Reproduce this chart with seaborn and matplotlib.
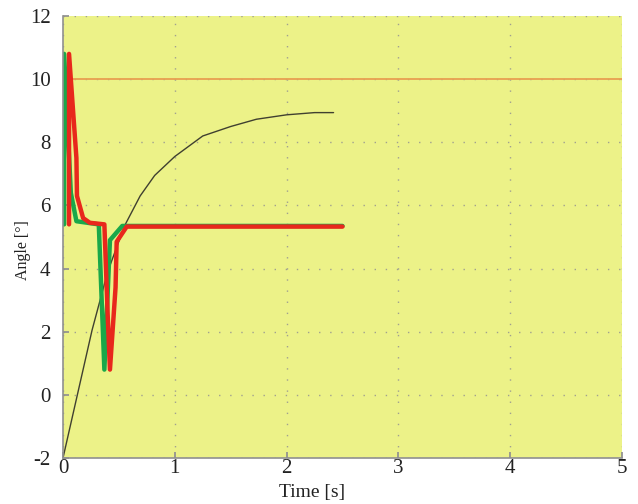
import matplotlib
matplotlib.use("Agg")
import matplotlib.pyplot as plt
import seaborn as sns
import pandas as pd

# Data
ref_t = [0.0, 5.0]
ref_v = [10.0, 10.0]

black_t = [0.0, 0.26, 0.40, 0.55, 0.69, 0.82, 1.0, 1.25, 1.5, 1.73, 2.0, 2.25, 2.42]
black_v = [-2.0, 2.05, 3.9, 5.35, 6.3, 6.95, 7.55, 8.2, 8.5, 8.73, 8.87, 8.94, 8.94]

green_t = [0.01, 0.01, 0.07, 0.12, 0.32, 0.37, 0.42, 0.53, 2.5]
green_v = [5.4, 10.8, 6.4, 5.5, 5.4, 0.8, 4.9, 5.35, 5.35]

red_t = [0.054, 0.054, 0.12, 0.125, 0.18, 0.24, 0.37, 0.40, 0.42, 0.47, 0.48, 0.57, 2.5]
red_v = [5.4, 10.8, 7.5, 6.3, 5.6, 5.45, 5.4, 2.5, 0.8, 3.4, 4.85, 5.33, 5.33]

x_ticks = [0, 1, 2, 3, 4, 5]
y_ticks = [-2, 0, 2, 4, 6, 8, 10, 12]

sns.set_theme(style="white")
plt.rcParams['font.family'] = ['Liberation Serif', 'DejaVu Serif']
plt.rcParams['axes.unicode_minus'] = False

fig = plt.figure(figsize=(6.38, 5.04), dpi=100)
ax = fig.add_axes([63/638, 1-458/504, (622-63)/638, (458-16)/504])
ax.set_facecolor("#ecf288")

df_ref = pd.DataFrame({"t": ref_t, "v": ref_v})
df_b = pd.DataFrame({"t": black_t, "v": black_v})
df_g = pd.DataFrame({"t": green_t, "v": green_v})
df_r = pd.DataFrame({"t": red_t, "v": red_v})

sns.lineplot(data=df_ref, x="t", y="v", ax=ax, color="#e8a050", lw=1.3, sort=False, estimator=None)
sns.lineplot(data=df_b, x="t", y="v", ax=ax, color="#404030", lw=1.0, sort=False, estimator=None)
sns.lineplot(data=df_g, x="t", y="v", ax=ax, color="#1aa84a", lw=3.2, sort=False, estimator=None)
sns.lineplot(data=df_r, x="t", y="v", ax=ax, color="#e8281c", lw=3.2, sort=False, estimator=None)

ax.set_xlim(0, 5)
ax.set_ylim(-2, 12)
ax.set_xticks(x_ticks)
ax.set_yticks(y_ticks)
ax.grid(True, color="#a0a090", linestyle=(0, (1, 7)), linewidth=1.0)
for s in ["top", "right"]:
    ax.spines[s].set_visible(False)
for s in ["left", "bottom"]:
    ax.spines[s].set_color("#909090")
    ax.spines[s].set_linewidth(1.2)
ax.tick_params(direction="in", length=4, color="#909090", labelsize=15, colors="#222222",
               left=True, bottom=True, pad=9)
ax.tick_params(axis="x", pad=1)
ax.set_xlabel("Time [s]", fontsize=14, color="#222222")
ax.set_ylabel("Angle [°]", fontsize=11.5, color="#222222")
ax.xaxis.set_label_coords((312-63)/559, -0.058)
ax.yaxis.set_label_coords((31-63)/559, 0.47)

fig.savefig("out.png", dpi=100)
